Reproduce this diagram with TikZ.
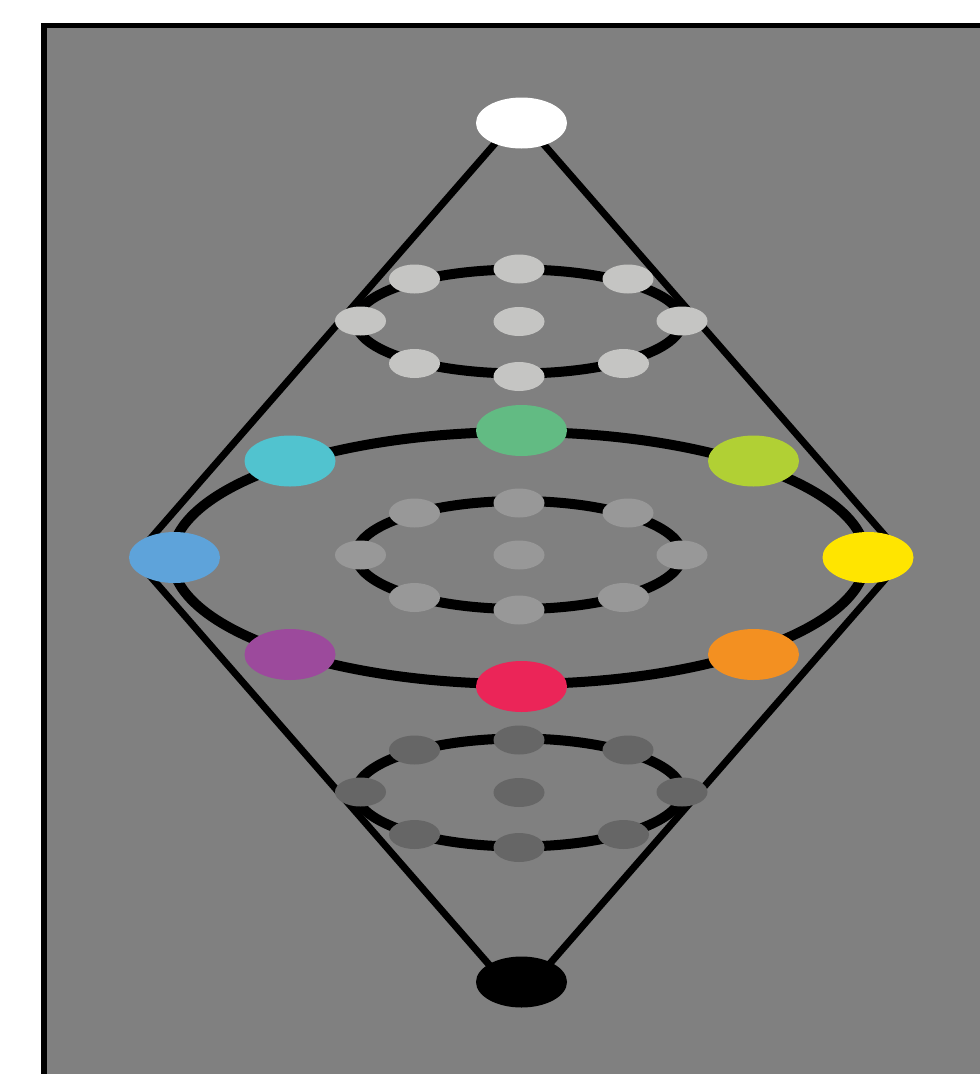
\documentclass[tikz,border=0pt]{standalone}
\usetikzlibrary{shapes.geometric}
\definecolor{bggray}{HTML}{808080}
\definecolor{ltgray}{HTML}{C5C5C3}
\definecolor{mdgray}{HTML}{989898}
\definecolor{dkgray}{HTML}{666666}
\definecolor{cgreen}{HTML}{62BB83}
\definecolor{clime}{HTML}{B1D034}
\definecolor{cyellow}{HTML}{FFE500}
\definecolor{corange}{HTML}{F39021}
\definecolor{cred}{HTML}{EB2558}
\definecolor{cpurple}{HTML}{9C4A9C}
\definecolor{cblue}{HTML}{5EA3DA}
\definecolor{ccyan}{HTML}{51C3CF}
\pgfdeclarelayer{bg}
\pgfsetlayers{bg,main}
\tikzset{
  big/.style={ellipse, draw=none, inner sep=0pt, minimum width=91pt, minimum height=51pt},
  small/.style={ellipse, draw=none, inner sep=0pt, minimum width=51pt, minimum height=29pt},
  ring/.style={line width=10pt},
  edge/.style={line width=7pt, line join=round},
}
\begin{document}
\begin{tikzpicture}[x=1pt,y=-1pt]
\useasboundingbox (0,0) rectangle (980,1074);
\clip (0,0) rectangle (980,1074);
% poles and colour nodes
\node[big, fill=white] (top) at (521.5,123) {};
\node[big, fill=black] (bot) at (521.5,982) {};
\node[big, fill=cgreen] (green) at (521.5,430.5) {};
\node[big, fill=clime] (lime) at (753.5,461) {};
\node[big, fill=cyellow] (yellow) at (868,557.5) {};
\node[big, fill=corange] (orange) at (753.5,654.5) {};
\node[big, fill=cred] (red) at (521.5,686.5) {};
\node[big, fill=cpurple] (purple) at (290,654.5) {};
\node[big, fill=cblue] (blue) at (174.5,557.5) {};
\node[big, fill=ccyan] (cyan) at (290,461) {};
% upper ring
\node[small, fill=ltgray] (u1) at (519,269) {};
\node[small, fill=ltgray] (u2) at (628,279) {};
\node[small, fill=ltgray] (u3) at (682,321) {};
\node[small, fill=ltgray] (u4) at (623.5,363.5) {};
\node[small, fill=ltgray] (u5) at (519,376.5) {};
\node[small, fill=ltgray] (u6) at (414.5,363.5) {};
\node[small, fill=ltgray] (u7) at (360.5,321) {};
\node[small, fill=ltgray] (u8) at (414.5,279) {};
\node[small, fill=ltgray] (uc) at (519,321.5) {};
% middle ring
\node[small, fill=mdgray] (m1) at (519,503) {};
\node[small, fill=mdgray] (m2) at (628,513) {};
\node[small, fill=mdgray] (m3) at (682,555) {};
\node[small, fill=mdgray] (m4) at (623.5,597.5) {};
\node[small, fill=mdgray] (m5) at (519,610) {};
\node[small, fill=mdgray] (m6) at (414.5,597.5) {};
\node[small, fill=mdgray] (m7) at (360.5,555) {};
\node[small, fill=mdgray] (m8) at (414.5,513) {};
\node[small, fill=mdgray] (mc) at (519,555) {};
% lower ring
\node[small, fill=dkgray] (l1) at (519,740) {};
\node[small, fill=dkgray] (l2) at (628,750) {};
\node[small, fill=dkgray] (l3) at (682,792) {};
\node[small, fill=dkgray] (l4) at (623.5,834.5) {};
\node[small, fill=dkgray] (l5) at (519,847.5) {};
\node[small, fill=dkgray] (l6) at (414.5,834.5) {};
\node[small, fill=dkgray] (l7) at (360.5,792) {};
\node[small, fill=dkgray] (l8) at (414.5,750) {};
\node[small, fill=dkgray] (lc) at (519,792.5) {};
% construction coordinates
\coordinate (apexT) at (519,116);
\coordinate (apexB) at (519,999);
\coordinate (vL) at (134,557.5);
\coordinate (vR) at (904,557.5);
\begin{pgfonlayer}{bg}
  \fill[white] (0,0) rectangle (980,1074);
  \draw[line width=5.5pt, fill=bggray] (44,25.5) rectangle (1100,1200);
  \draw[edge] (apexT) -- (vL) -- (apexB) -- (vR) -- cycle;
  \draw[ring] (uc) ellipse [x radius=163pt, y radius=52pt];
  \draw[ring] (mc) ellipse [x radius=163pt, y radius=54pt];
  \draw[ring] (lc) ellipse [x radius=163pt, y radius=54pt];
  \draw[ring] (519,558) ellipse [x radius=347pt, y radius=126pt];
\end{pgfonlayer}
\end{tikzpicture}
\end{document}
